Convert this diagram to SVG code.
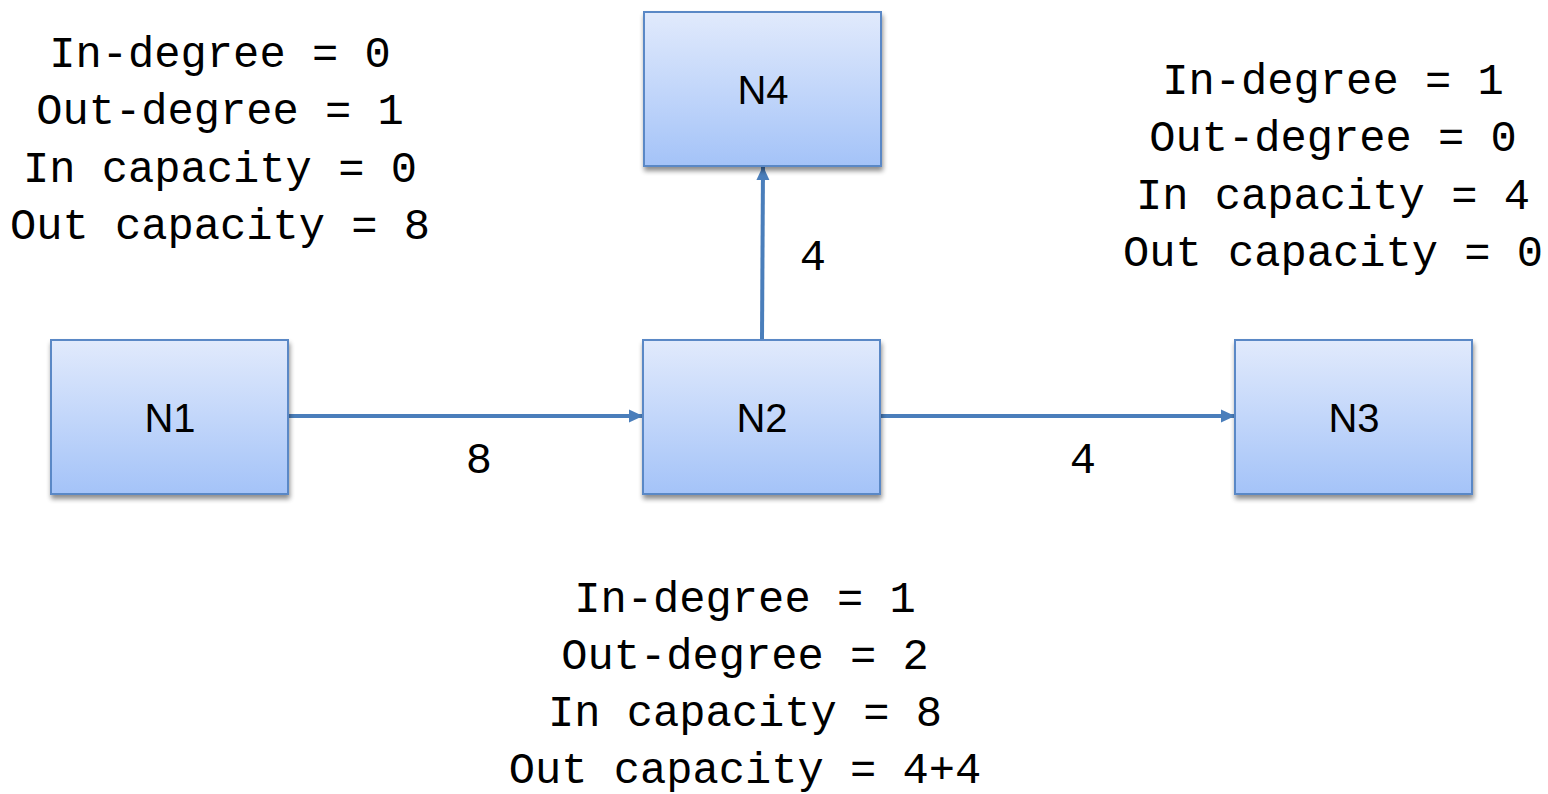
<svg xmlns="http://www.w3.org/2000/svg" width="1548" height="794" viewBox="0 0 1548 794">
<defs>
<linearGradient id="g" x1="0" y1="0" x2="0" y2="1">
<stop offset="0" stop-color="#e1eafc"/>
<stop offset="1" stop-color="#a4c3f8"/>
</linearGradient>
<filter id="sh" x="-10%" y="-10%" width="125%" height="130%">
<feGaussianBlur in="SourceAlpha" stdDeviation="2.5"/>
<feOffset dx="1" dy="4" result="b"/>
<feComponentTransfer><feFuncA type="linear" slope="0.45"/></feComponentTransfer>
<feMerge><feMergeNode/><feMergeNode in="SourceGraphic"/></feMerge>
</filter>
<marker id="ah" markerWidth="14" markerHeight="14" refX="13" refY="7" orient="auto" markerUnits="userSpaceOnUse">
<path d="M0,0.5 L14,7 L0,13.5 Z" fill="#4a7ebb"/>
</marker>
</defs>
<style>
.box{fill:url(#g);stroke:#5a88c6;stroke-width:2;filter:url(#sh)}
.lbl{font-family:"Liberation Sans",Arial,sans-serif;font-size:40px;fill:#000;text-anchor:middle}
.mono{font-family:"Liberation Mono","DejaVu Sans Mono",monospace;font-size:43.75px;fill:#000;text-anchor:middle}
.edge{stroke:#4a7ebb;stroke-width:4;fill:none;marker-end:url(#ah)}
</style>
<g id="connectors">
<line class="edge" x1="289" y1="416" x2="642" y2="416"/>
<line class="edge" x1="881" y1="416" x2="1234" y2="416"/>
<line class="edge" x1="762" y1="339" x2="763" y2="167"/>
<text class="mono" x="479" y="473">8</text>
<text class="mono" x="1083" y="473">4</text>
<text class="mono" x="813" y="270">4</text>
</g>
<g id="N1">
<rect class="box" x="51" y="340" width="237" height="154"/>
<text class="lbl" x="170" y="432">N1</text>
</g>
<g id="N2">
<rect class="box" x="643" y="340" width="237" height="154"/>
<text class="lbl" x="762" y="432">N2</text>
</g>
<g id="N3">
<rect class="box" x="1235" y="340" width="237" height="154"/>
<text class="lbl" x="1354" y="432">N3</text>
</g>
<g id="N4">
<rect class="box" x="644" y="12" width="237" height="154"/>
<text class="lbl" x="763" y="104">N4</text>
</g>
<g id="info-N1">
<text class="mono" x="220" y="67">In-degree = 0</text>
<text class="mono" x="220" y="124">Out-degree = 1</text>
<text class="mono" x="220" y="182">In capacity = 0</text>
<text class="mono" x="220" y="239">Out capacity = 8</text>
</g>
<g id="info-N3">
<text class="mono" x="1333" y="94">In-degree = 1</text>
<text class="mono" x="1333" y="151">Out-degree = 0</text>
<text class="mono" x="1333" y="209">In capacity = 4</text>
<text class="mono" x="1333" y="266">Out capacity = 0</text>
</g>
<g id="info-N2">
<text class="mono" x="745" y="612">In-degree = 1</text>
<text class="mono" x="745" y="669">Out-degree = 2</text>
<text class="mono" x="745" y="726">In capacity = 8</text>
<text class="mono" x="745" y="783">Out capacity = 4+4</text>
</g>
</svg>
